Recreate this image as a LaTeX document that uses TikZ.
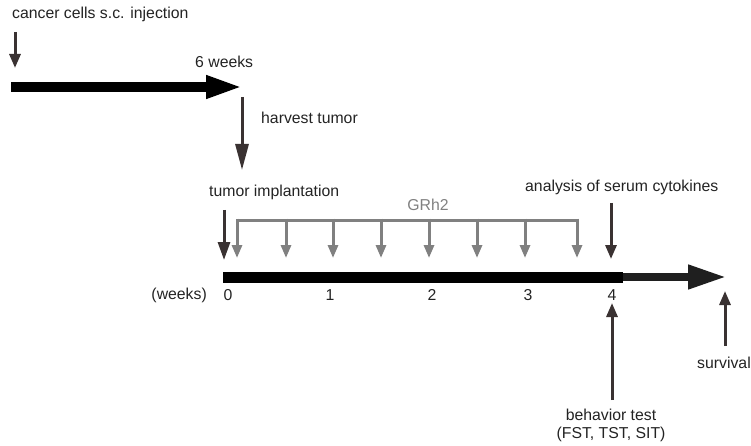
\documentclass[tikz,border=0pt]{standalone}
\usepackage{fontspec}
\setmainfont{Liberation Sans}
\usetikzlibrary{arrows.meta}

\definecolor{arrdark}{RGB}{58,50,50}
\definecolor{grhgray}{RGB}{128,128,128}
\definecolor{txtdark}{RGB}{35,35,35}

\tikzset{
  lbl/.style={inner sep=0pt, text=txtdark, font=\fontsize{15.8}{18}\selectfont},
  downarr/.style={draw=arrdark, line width=3pt, -{Triangle[length=14pt,width=11pt]}},
  grharr/.style={draw=grhgray, line width=3pt, -{Triangle[length=13pt,width=10pt]}},
}

\begin{document}
\begin{tikzpicture}[x=1pt,y=-1pt]
 \useasboundingbox (0,0) rectangle (751,446);

 % Pre-phase: subcutaneous injection and growth
 \node[lbl,anchor=west] (inject) at (12,14) {cancer cells s.c. injection};
 \coordinate (injtop) at (15,32);
 \coordinate (injbot) at (15,68);
 \draw[downarr] (injtop) -- (injbot);

 \coordinate (growA) at (11,87);
 \coordinate (growB) at (243,87);
 \draw[black, line width=10pt, -{Triangle[length=37pt,width=21pt]}] (growA) -- (growB);
 \node[lbl,anchor=west] (sixwk) at (195,62) {6 weeks};

 \coordinate (harvtop) at (242,97);
 \coordinate (harvbot) at (242,170);
 \draw[draw=arrdark, line width=3pt, -{Triangle[length=26pt,width=13pt]}] (harvtop) -- (harvbot);
 \node[lbl,anchor=west] (harvest) at (261,118) {harvest tumor};

 % Main timeline
 \node[lbl,anchor=west] (implant) at (209,192) {tumor implantation};
 \coordinate (imptop) at (224,210);
 \coordinate (impbot) at (224,260);
 \draw[draw=arrdark, line width=3pt, -{Triangle[length=18pt,width=12pt]}] (imptop) -- (impbot);

 \coordinate (t0) at (223,277);
 \coordinate (t4) at (623,277);
 \coordinate (tend) at (726,277);
 \draw[black, line width=11pt] (t0) -- (t4);
 \draw[black!88, line width=7.5pt, -{Triangle[length=38pt,width=23pt]}] (t4) -- (tend);

 \node[lbl,anchor=east] (weeks) at (207,295) {(weeks)};
 \node[lbl] (w0) at (228,295) {0};
 \node[lbl] (w1) at (330,295) {1};
 \node[lbl] (w2) at (432,295) {2};
 \node[lbl] (w3) at (528,295) {3};
 \node[lbl] (w4) at (612,295) {4};

 % GRh2 treatment
 \node[lbl,text=grhgray] (grh) at (428,205) {GRh2};
 \coordinate (grhL) at (237,220);
 \coordinate (grhR) at (577,220);
 \draw[grhgray, line width=3pt] (grhL) -- (grhR);
 \foreach \gx in {237,286,333,381,429,477,525,577}
  \draw[grharr] (\gx,218.5) -- (\gx,258);

 % Read-outs
 \node[lbl,anchor=west] (serum) at (525,187) {analysis of serum cytokines};
 \coordinate (sertop) at (611,203);
 \coordinate (serbot) at (611,259);
 \draw[downarr] (sertop) -- (serbot);

 \coordinate (behbot) at (612,400);
 \coordinate (behtop) at (612,303);
 \draw[downarr] (behbot) -- (behtop);
 \node[lbl] (behav) at (611,415) {behavior test};
 \node[lbl] (tests) at (611,434) {(FST, TST, SIT)};

 \coordinate (survbot) at (725,346);
 \coordinate (survtop) at (725,291);
 \draw[downarr] (survbot) -- (survtop);
 \node[lbl,anchor=west] (surv) at (697,363) {survival};

\end{tikzpicture}
\end{document}
